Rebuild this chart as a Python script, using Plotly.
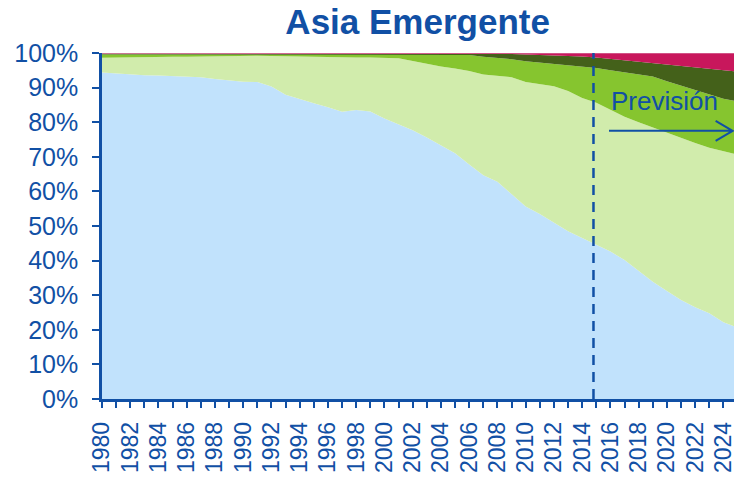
import plotly.graph_objects as go

# Years on the category axis (2025 carries the areas to the right edge)
years = list(range(1980, 2026))

# Cumulative shares (%) at the top of each band, bottom to top
top_blue = [94.4, 94.1, 93.9, 93.6, 93.5, 93.4, 93.3, 93.0, 92.5, 92.0,
            91.7, 91.6, 90.3, 87.9, 86.6, 85.5, 84.3, 83.0, 83.5, 83.1,
            81.1, 79.5, 77.7, 75.6, 73.3, 71.0, 67.8, 64.7, 62.8, 59.2,
            55.6, 53.5, 51.0, 48.5, 46.5, 44.6, 42.6, 40.2, 37.0, 33.9,
            31.2, 28.6, 26.5, 24.8, 22.2, 20.6]
top_light = [98.6, 98.7, 98.7, 98.8, 98.8, 98.9, 98.9, 99.0, 99.0, 99.1,
             99.2, 99.2, 99.1, 99.0, 99.0, 98.9, 98.8, 98.7, 98.7, 98.7,
             98.6, 98.5, 97.7, 96.8, 96.1, 95.5, 94.8, 93.8, 93.4, 93.0,
             91.6, 91.0, 90.4, 89.0, 87.0, 85.6, 83.6, 81.6, 80.0, 78.5,
             77.0, 75.3, 74.0, 72.6, 71.5, 70.6]
top_mid = [99.6, 99.6, 99.6, 99.6, 99.6, 99.6, 99.6, 99.6, 99.6, 99.6,
           99.6, 99.6, 99.6, 99.6, 99.6, 99.6, 99.6, 99.6, 99.6, 99.6,
           99.6, 99.6, 99.6, 99.6, 99.5, 99.5, 99.4, 98.9, 98.6, 98.2,
           97.6, 97.2, 96.8, 96.4, 96.0, 95.7, 95.0, 94.4, 93.8, 93.2,
           91.8, 90.5, 89.3, 88.0, 86.8, 86.0]
top_dark = [99.85] * 21 + [99.8] * 8 + [99.7, 99.6, 99.5, 99.4, 99.2, 99.0,
            98.7, 98.3, 97.9, 97.5, 97.0, 96.6, 96.2, 95.8, 95.4, 95.0, 94.6]

# Individual band shares derived from the cumulative tops
share_blue = top_blue
share_light = [b - a for a, b in zip(top_blue, top_light)]
share_mid = [b - a for a, b in zip(top_light, top_mid)]
share_dark = [b - a for a, b in zip(top_mid, top_dark)]
share_red = [100 - a for a in top_dark]

bands = [
    (share_blue, "#C1E2FC"),
    (share_light, "#D1ECAC"),
    (share_mid, "#86C52F"),
    (share_dark, "#44611A"),
    (share_red, "#C8175C"),
]

forecast_start = 2014.8
ink = "#1150A5"
font_family = "Liberation Sans, Arial, sans-serif"

fig = go.Figure()
for vals, col in bands:
    fig.add_trace(go.Scatter(
        x=years, y=vals, stackgroup="one", mode="lines",
        line=dict(width=0, color=col), fillcolor=col,
        hoverinfo="skip", showlegend=False,
    ))

# Thin rose edge along the 100% line
fig.add_shape(type="line", xref="x", yref="y", x0=1980, x1=2025, y0=100, y1=100,
              line=dict(color="#D98FB0", width=1.2))

# Forecast divider
fig.add_shape(type="line", xref="x", yref="y",
              x0=forecast_start, x1=forecast_start, y0=0, y1=100,
              line=dict(color=ink, width=2.5, dash="10px,7px"))

# Forecast arrow
fig.add_shape(type="path", xref="x", yref="y",
              path="M 2015.9,77.5 L 2024.65,77.5 M 2023.45,80.4 L 2024.65,77.5 L 2023.45,74.6",
              line=dict(color=ink, width=2))

fig.add_annotation(x=2019.8, y=86.1, xref="x", yref="y", text="Previsión",
                   showarrow=False, font=dict(family=font_family, size=26, color=ink))

fig.update_layout(
    width=734, height=477,
    margin=dict(l=102, r=0, t=53, b=78),
    paper_bgcolor="white", plot_bgcolor="white",
    title=dict(text="<b>Asia Emergente</b>", x=0.569, xanchor="center",
               y=0.955, yanchor="middle",
               font=dict(family=font_family, size=35, color=ink)),
    font=dict(family=font_family, color=ink),
)

fig.update_xaxes(
    range=[1980, 2024.75],
    tickvals=years[:-1],
    ticktext=[str(y) if y % 2 == 0 else "" for y in years[:-1]],
    tickangle=-90,
    ticks="outside", ticklen=6, tickwidth=2, tickcolor=ink,
    ticklabelstandoff=5, ticklabeloverflow="allow", automargin=False,
    showline=True, linecolor=ink, linewidth=2.5,
    showgrid=False, zeroline=False,
    tickfont=dict(family=font_family, size=23, color=ink),
)
fig.update_yaxes(
    range=[0, 100],
    tickvals=list(range(0, 101, 10)),
    ticktext=[f"{v}%" for v in range(0, 101, 10)],
    ticks="outside", ticklen=7, tickwidth=2, tickcolor=ink,
    ticklabelstandoff=9, automargin=False,
    showline=True, linecolor=ink, linewidth=2.5,
    showgrid=False, zeroline=False,
    tickfont=dict(family=font_family, size=25, color=ink),
)

fig.write_html("out.html")
